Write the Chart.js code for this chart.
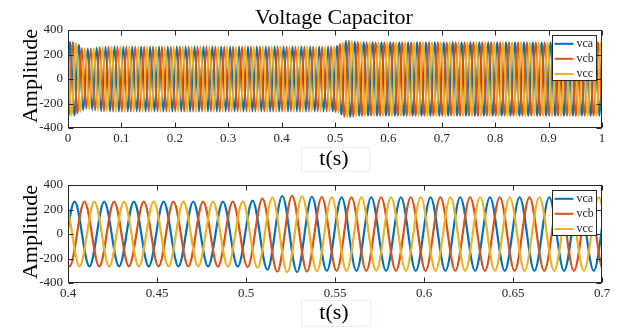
<!DOCTYPE html>
<html>
<head>
<meta charset="utf-8">
<script src="https://cdn.jsdelivr.net/npm/chart.js@4.4.0/dist/chart.umd.min.js"></script>
<style>
body { margin: 0; width: 626px; height: 329px; background: #fff; overflow: hidden; position: relative; font-family: "Liberation Serif", serif; }
.lbl { position: absolute; color: #000; white-space: nowrap; line-height: 1; transform: translate(-50%, -50%); }
.ylbl { transform: translate(-50%, -50%) rotate(-90deg); }
.xbox { position: absolute; border: 1px solid #f9e8ea; }
#top { position: absolute; left: 0; top: 0; }
#bottom { position: absolute; left: 0; top: 170px; }
</style>
</head>
<body>
<canvas id="top" width="626" height="170"></canvas>
<canvas id="bottom" width="626" height="159"></canvas>
<div class="xbox" style="left:301px;top:147px;width:67px;height:23px;"></div>
<div class="xbox" style="left:301px;top:300px;width:68px;height:25px;"></div>
<div class="lbl" style="left:334px;top:17px;font-size:22px;">Voltage Capacitor</div>
<div class="lbl ylbl" style="left:30px;top:76px;font-size:22px;">Amplitude</div>
<div class="lbl ylbl" style="left:30px;top:232px;font-size:22px;">Amplitude</div>
<div class="lbl" style="left:334px;top:158px;font-size:22px;">t(s)</div>
<div class="lbl" style="left:334px;top:312px;font-size:22px;">t(s)</div>
<script>
// three phase capacitor voltages, 60 Hz: one extremum every half cycle
const seriesNames = ['vca', 'vcb', 'vcc'];
const seriesColors = ['#0072BD', '#D95319', '#EDB120'];
const halfCycle = 1 / 120;
const firstExtremum = [0.0037, 0.0009, 0.0065];
const startValues = [40, -285, 250];   // t = 0
const endValues = [55, -283, 228];     // t = 1

const topTicks = [0, 0.1, 0.2, 0.3, 0.4, 0.5, 0.6, 0.7, 0.8, 0.9, 1];
const bottomTicks = [0.4, 0.45, 0.5, 0.55, 0.6, 0.65, 0.7];
const yTicks = [-400, -200, 0, 200, 400];

// peak / trough values, 12 per 0.1 s
const vcaPeaks = [
  305, -298, 280, -255, 248, -252, 258, -262, 264, -265, 265, -265,
  265, -265, 265, -265, 265, -265, 265, -265, 265, -265, 265, -265,
  265, -265, 265, -265, 265, -265, 265, -265, 265, -265, 265, -265,
  265, -265, 265, -265, 265, -265, 265, -265, 265, -265, 265, -265,
  265, -265, 265, -265, 265, -265, 265, -265, 265, -265, 265, -266,
  272, -292, 310, -311, 304, -301, 300, -301, 300, -301, 300, -301,
  300, -301, 300, -301, 300, -301, 300, -301, 300, -301, 300, -301,
  300, -301, 300, -301, 300, -301, 300, -301, 300, -301, 300, -301,
  300, -301, 300, -301, 300, -301, 300, -301, 300, -301, 300, -301,
  300, -301, 300, -301, 300, -301, 300, -301, 300, -301, 300, -301
];
const vcbPeaks = [
  -308, 300, -282, 252, -245, 250, -258, 262, -264, 265, -265, 265,
  -265, 265, -265, 265, -265, 265, -265, 265, -265, 265, -265, 265,
  -265, 265, -265, 265, -265, 265, -265, 265, -265, 265, -265, 265,
  -265, 265, -265, 265, -265, 265, -265, 265, -265, 265, -265, 265,
  -265, 265, -265, 265, -265, 265, -265, 265, -265, 265, -266, 265,
  -270, 288, -308, 312, -306, 302, -301, 300, -301, 300, -301, 300,
  -301, 300, -301, 300, -301, 300, -301, 300, -301, 300, -301, 300,
  -301, 300, -301, 300, -301, 300, -301, 300, -301, 300, -301, 300,
  -301, 300, -301, 300, -301, 300, -301, 300, -301, 300, -301, 300,
  -301, 300, -301, 300, -301, 300, -301, 300, -301, 300, -301, 300
];
const vccPeaks = [
  -300, 296, -270, 250, -246, 252, -258, 262, -264, 265, -265, 265,
  -265, 265, -265, 265, -265, 265, -265, 265, -265, 265, -265, 265,
  -265, 265, -265, 265, -265, 265, -265, 265, -265, 265, -265, 265,
  -265, 265, -265, 265, -265, 265, -265, 265, -265, 265, -265, 265,
  -265, 265, -265, 265, -265, 265, -265, 265, -265, 265, -265, 266,
  -275, 298, -312, 308, -303, 300, -301, 300, -301, 300, -301, 300,
  -301, 300, -301, 300, -301, 300, -301, 300, -301, 300, -301, 300,
  -301, 300, -301, 300, -301, 300, -301, 300, -301, 300, -301, 300,
  -301, 300, -301, 300, -301, 300, -301, 300, -301, 300, -301, 300,
  -301, 300, -301, 300, -301, 300, -301, 300, -301, 300, -301, 300
];
const allPeaks = [vcaPeaks, vcbPeaks, vccPeaks];

function buildPoints(i) {
    const pts = [{x: 0, y: startValues[i]}];
    allPeaks[i].forEach((v, k) => {
        pts.push({x: firstExtremum[i] + k * halfCycle, y: v});
    });
    pts.push({x: 1, y: endValues[i]});
    return pts;
}

function makeDatasets(width) {
    return seriesNames.map((name, i) => ({
        label: name,
        data: buildPoints(i),
        borderColor: seriesColors[i],
        backgroundColor: seriesColors[i],
        borderWidth: width,
        pointRadius: 0,
        cubicInterpolationMode: 'monotone',
        order: 2 - i
    }));
}

const axesBox = {
    id: 'axesBox',
    afterDatasetsDraw(chart) {
        const ctx = chart.ctx;
        const a = chart.chartArea;
        const xs = chart.scales.x, ys = chart.scales.y;
        const l = Math.round(a.left) + 0.5, r = Math.round(a.right) - 0.5;
        const t = Math.round(a.top) + 0.5, b = Math.round(a.bottom) - 0.5;
        ctx.save();
        ctx.strokeStyle = '#262626';
        ctx.lineWidth = 1;
        ctx.beginPath();
        xs.ticks.forEach(tk => {
            const px = Math.round(xs.getPixelForValue(tk.value)) + 0.5;
            ctx.moveTo(px, b); ctx.lineTo(px, b - 5);
            ctx.moveTo(px, t); ctx.lineTo(px, t + 5);
        });
        ys.ticks.forEach(tk => {
            const py = Math.round(ys.getPixelForValue(tk.value)) + 0.5;
            ctx.moveTo(l, py); ctx.lineTo(l + 5, py);
            ctx.moveTo(r, py); ctx.lineTo(r - 5, py);
        });
        ctx.stroke();
        ctx.strokeRect(l, t, r - l, b - t);

        // legend inside the axes, top right
        const lx = a.right - 49.5, ly = a.top + 5.5;
        ctx.fillStyle = '#fff';
        ctx.fillRect(lx, ly, 44, 45);
        ctx.strokeRect(lx, ly, 44, 45);
        ctx.font = '12px "Liberation Serif"';
        ctx.textBaseline = 'middle';
        ctx.textAlign = 'left';
        [13.8, 28.8, 44].forEach((dy, i) => {
            const y = a.top + dy;
            ctx.strokeStyle = seriesColors[i];
            ctx.lineWidth = 2;
            ctx.beginPath();
            ctx.moveTo(a.right - 47.5, y);
            ctx.lineTo(a.right - 28.5, y);
            ctx.stroke();
            ctx.fillStyle = '#262626';
            ctx.fillText(seriesNames[i], a.right - 25.5, y);
        });
        ctx.restore();
    }
};

function makeChart(id, xTicks, padTop, xHeight, width) {
    return new Chart(document.getElementById(id), {
        type: 'line',
        data: { datasets: makeDatasets(width) },
        options: {
            responsive: false,
            animation: false,
            parsing: false,
            layout: { padding: { top: padTop, right: 24, left: 0, bottom: 0 } },
            plugins: { legend: { display: false }, tooltip: { enabled: false } },
            scales: {
                x: {
                    type: 'linear',
                    min: xTicks[0],
                    max: xTicks[xTicks.length - 1],
                    afterBuildTicks: s => { s.ticks = xTicks.map(v => ({value: v})); },
                    afterFit: s => { s.height = xHeight; },
                    grid: { display: false, drawTicks: false },
                    border: { display: false },
                    ticks: {
                        autoSkip: false,
                        maxRotation: 0,
                        padding: 3,
                        color: '#262626',
                        font: { family: 'Liberation Serif', size: 13 },
                        callback: v => String(+v.toFixed(2))
                    }
                },
                y: {
                    min: -400,
                    max: 400,
                    afterBuildTicks: s => { s.ticks = yTicks.map(v => ({value: v})); },
                    afterFit: s => { s.width = 68; },
                    grid: { display: false, drawTicks: false },
                    border: { display: false },
                    ticks: {
                        padding: 5,
                        color: '#262626',
                        font: { family: 'Liberation Serif', size: 13 }
                    }
                }
            }
        },
        plugins: [axesBox]
    });
}

makeChart('top', topTicks, 30, 42, 2);
makeChart('bottom', bottomTicks, 15, 46, 2.2);
</script>
</body>
</html>
